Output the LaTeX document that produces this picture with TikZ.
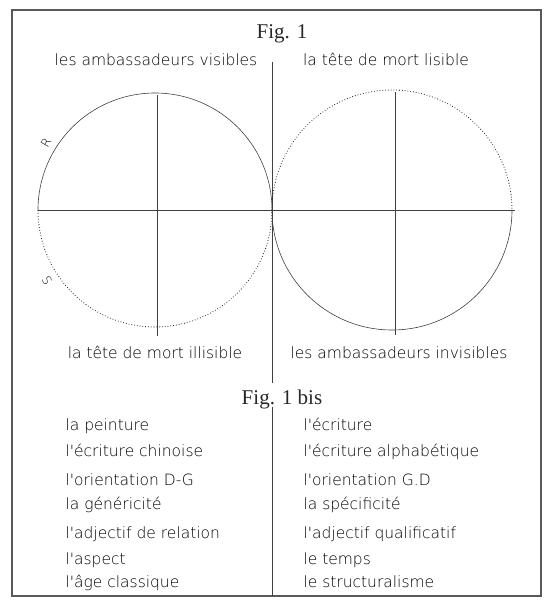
\documentclass[tikz,border=0pt]{standalone}
\usepackage{fontspec}
\setmainfont{Liberation Serif}
\newfontfamily\handfont{DejaVu Sans ExtraLight}

\begin{document}
\begin{tikzpicture}[x=1pt, y=-1pt,
  hand/.style={anchor=base, font={\handfont\fontsize{15.5}{15.5}\selectfont}, text=black},
  item/.style={anchor=base west, font={\handfont\fontsize{15.5}{15.5}\selectfont}, text=black},
  caption/.style={anchor=base, font={\fontsize{21}{21}\selectfont}, text=black!85},
  rule/.style={draw=black!75, line width=0.6pt},
  dots/.style={draw=black!85, line width=1.1pt, line cap=round, dash pattern=on 0pt off 2.8pt}]
\useasboundingbox (0,0) rectangle (553,605);
\draw[black!65, line width=1.4pt] (12,10) rectangle (541,596);
% Fig. 1
\node[caption] (fig1) at (282,38) {Fig. 1};
\coordinate (axtop) at (272,62);
\coordinate (axbot) at (272,383);
\draw[rule] (axtop) -- (axbot);
\node[hand] (tl) at (156,65) {les ambassadeurs visibles};
\node[hand] (tr) at (386,65) {la tête de mort lisible};
\node[hand] (bl) at (155,358) {la tête de mort illisible};
\node[hand] (br) at (399,358) {les ambassadeurs invisibles};
% the two circles
\coordinate (lc) at (155,210);
\coordinate (rc) at (392,210);
\draw[rule] (lc) ++(-117,0) arc[start angle=180, end angle=360, radius=117];
\draw[dots] (lc) ++(117,0) arc[start angle=0, end angle=180, radius=117];
\draw[dots] (rc) ++(-120,0) arc[start angle=180, end angle=360, radius=120];
\draw[rule] (rc) ++(120,0) arc[start angle=0, end angle=180, radius=120];
\draw[rule] (lc) ++(-117,0) -- ++(477,0);
\draw[rule] (lc) ++(2,-115) -- ++(0,241);
\draw[rule] (rc) ++(3,-118) -- ++(0,243);
\node[font={\handfont\fontsize{12}{12}\selectfont}, text=black, rotate=60] (r) at (46,143) {R};
\node[font={\handfont\fontsize{12}{12}\selectfont}, text=black, rotate=-60] (s) at (47,281) {S};
% Fig. 1 bis
\node[caption] (fig1bis) at (282,404) {Fig. 1 bis};
\coordinate (listtop) at (272,407);
\coordinate (listbot) at (272,596);
\draw[rule] (listtop) -- (listbot);
\node[item] (l1) at (62,430) {la peinture};
\node[item] (l2) at (62,456) {l'écriture chinoise};
\node[item] (l3) at (62,485) {l'orientation D-G};
\node[item] (l4) at (62,509) {la généricité};
\node[item] (l5) at (62,538) {l'adjectif de relation};
\node[item] (l6) at (62,564) {l'aspect};
\node[item] (l7) at (62,587) {l'âge classique};
\node[item] (r1) at (300,430) {l'écriture};
\node[item] (r2) at (300,456) {l'écriture alphabétique};
\node[item] (r3) at (300,485) {l'orientation G.D};
\node[item] (r4) at (300,509) {la spécificité};
\node[item] (r5) at (300,538) {l'adjectif qualificatif};
\node[item] (r6) at (300,564) {le temps};
\node[item] (r7) at (300,587) {le structuralisme};
\end{tikzpicture}
\end{document}
